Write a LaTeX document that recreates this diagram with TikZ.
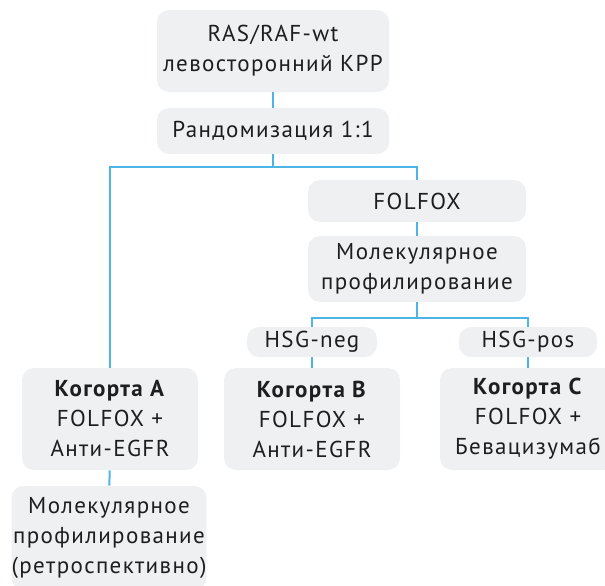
\documentclass[tikz,border=0pt]{standalone}
\usepackage{fontspec}
\setmainfont{PT Sans}[LetterSpace=6]
\definecolor{boxgrey}{HTML}{EFF0F2}
\definecolor{lineblue}{HTML}{4DB4E6}
\definecolor{ink}{HTML}{1E1E1E}

\begin{document}
\begin{tikzpicture}[x=0.5pt,y=-0.5pt,
  box/.style={fill=boxgrey,rounded corners=6pt,align=center,text=ink,
    font=\fontsize{11.5}{15}\selectfont,inner sep=0pt},
  link/.style={draw=lineblue,line width=1pt}]
 \useasboundingbox (0,0) rectangle (605,585);
 % top of the scheme
 \node[box,minimum width=116pt,minimum height=41pt] (top) at (273,51)
   {RAS/RAF-wt\\левосторонний КРР};
 \node[box,minimum width=116pt,minimum height=23pt] (rand) at (273,131)
   {Рандомизация 1:1};
 \node[box,minimum width=109pt,minimum height=21pt] (folfox) at (417,201)
   {FOLFOX};
 \node[box,minimum width=109pt,minimum height=33pt] (molec) at (417,269)
   {Молекулярное\\профилирование};
 \node[box,minimum width=65pt,minimum height=15pt] (hneg) at (312,342)
   {HSG-neg};
 \node[box,minimum width=69pt,minimum height=15pt] (hpos) at (528,342)
   {HSG-pos};
 % cohorts
 \foreach \name/\x/\lbl/\drug in {cohA/110/A/Анти-EGFR,cohB/312/B/Анти-EGFR,
   cohC/528/C/Бевацизумаб}{%
   \node[box,minimum width=88pt,minimum height=51pt] (\name) at (\x,419)
     {\textbf{Когорта \lbl}\\FOLFOX +\\\drug};
 }
 \node[box,minimum width=96pt,minimum height=52pt] (retro) at (109,538)
   {Молекулярное\\профилирование\\(ретроспективно)};
 \coordinate (split1) at (273,167);
 \coordinate (split2) at (417,318);
 % connectors
 \draw[link] (top) -- (rand);
 \draw[link] (rand) -- (split1);
 \draw[link] (cohA.north) |- (split1);
 \draw[link] (folfox.north) |- (split1);
 \draw[link] (folfox) -- (molec);
 \draw[link] (molec) -- (split2);
 \draw[link] (hneg.north) |- (split2);
 \draw[link] (hpos.north) |- (split2);
 \draw[link] (hneg) -- (cohB);
 \draw[link] (hpos) -- (cohC);
 \draw[link] (cohA) -- (retro);
\end{tikzpicture}
\end{document}
